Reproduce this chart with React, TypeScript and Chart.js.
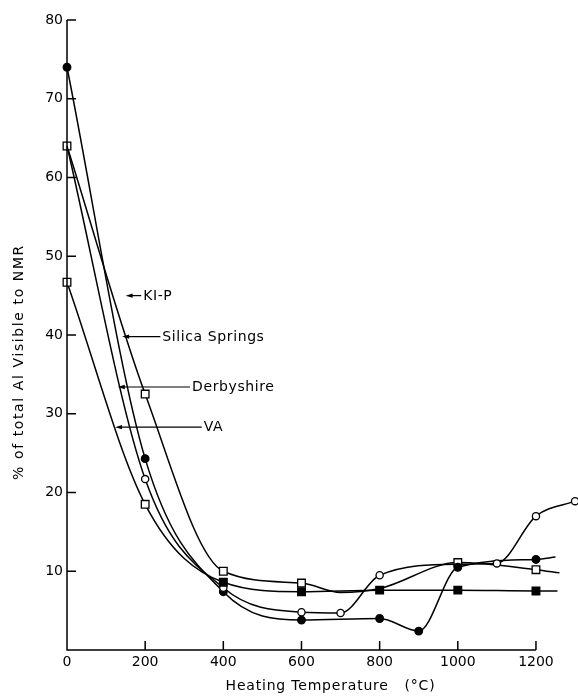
import React, { useEffect, useRef } from "react";
import { Chart, registerables } from "chart.js";

Chart.register(...registerables);

// ---- data ----
const X_TICKS = [0, 200, 400, 600, 800, 1000, 1200];
const Y_TICKS = [10, 20, 30, 40, 50, 60, 70, 80];

const KIP_T = [0, 200, 400, 600, 700, 800, 1000, 1200, 1260];
const KIP_V = [64, 32.5, 10, 8.5, 7.3, 7.8, 11.1, 10.2, 9.8];
const KIP_MARK = [1, 1, 1, 1, 0, 0, 1, 1, 0];

const SIL_T = [0, 200, 400, 600, 800, 900, 1000, 1200, 1250];
const SIL_V = [74, 24.3, 7.4, 3.8, 4.0, 2.4, 10.5, 11.5, 11.8];
const SIL_MARK = [1, 1, 1, 1, 1, 1, 1, 1, 0];

const DER_T = [0, 200, 400, 600, 700, 800, 1000, 1100, 1200, 1300];
const DER_V = [64, 21.7, 7.9, 4.8, 4.7, 9.5, 10.9, 11.0, 17.0, 18.9];
const DER_MARK = [0, 1, 1, 1, 1, 1, 0, 1, 1, 1];

const VA_T = [0, 200, 400, 600, 800, 1000, 1200, 1255];
const VA_V = [46.7, 18.5, 8.6, 7.4, 7.6, 7.6, 7.5, 7.5];
// 0 = no marker, 1 = open square, 2 = filled square
const VA_MARK = [1, 1, 2, 2, 2, 2, 2, 0];

// labels with pointer arrows (data coordinates)
const LABELS = ["KI-P", "Silica Springs", "Derbyshire", "VA"];
const LABEL_TIP_T = [150, 141, 130, 123];
const LABEL_Y = [45, 39.8, 33.4, 28.3];
const LABEL_TEXT_T = [195, 244, 320, 350];

const FONT = "DejaVu Sans";

const pts = (t: number[], v: number[]) => t.map((x, i) => ({ x, y: v[i] }));

const overlay = {
  id: "overlay",
  afterDatasetsDraw(chart: any) {
    const { ctx, scales } = chart;
    const xs = scales.x;
    const ys = scales.y;
    const x0 = xs.getPixelForValue(0);
    const y0 = ys.getPixelForValue(0);
    ctx.save();
    ctx.strokeStyle = "#000";
    ctx.fillStyle = "#000";
    ctx.lineWidth = 1.5;
    ctx.lineCap = "butt";
    // axes
    ctx.beginPath();
    ctx.moveTo(x0, ys.getPixelForValue(80));
    ctx.lineTo(x0, y0);
    ctx.lineTo(xs.getPixelForValue(1200), y0);
    ctx.stroke();
    // ticks (inside)
    ctx.beginPath();
    Y_TICKS.forEach((v) => {
      const py = ys.getPixelForValue(v);
      ctx.moveTo(x0, py);
      ctx.lineTo(x0 + 9, py);
    });
    X_TICKS.forEach((v) => {
      if (v === 0) return;
      const px = xs.getPixelForValue(v);
      ctx.moveTo(px, y0);
      ctx.lineTo(px, y0 - 9);
    });
    ctx.stroke();

    // pointer labels
    ctx.lineWidth = 1.2;
    ctx.font = `14px "${FONT}"`;
    (ctx as any).letterSpacing = "0.6px";
    ctx.textBaseline = "middle";
    ctx.textAlign = "left";
    LABELS.forEach((lab, i) => {
      const tx = xs.getPixelForValue(LABEL_TIP_T[i]);
      const ty = ys.getPixelForValue(LABEL_Y[i]);
      const sx = xs.getPixelForValue(LABEL_TEXT_T[i]);
      ctx.beginPath();
      ctx.moveTo(tx + 4, ty);
      ctx.lineTo(sx - 2, ty);
      ctx.stroke();
      ctx.beginPath();
      ctx.moveTo(tx, ty);
      ctx.lineTo(tx + 7, ty - 2.2);
      ctx.lineTo(tx + 7, ty + 2.2);
      ctx.closePath();
      ctx.fill();
      ctx.fillText(lab, sx, ty + 0.5);
    });

    // axis titles
    ctx.font = `14px "${FONT}"`;
    (ctx as any).letterSpacing = "0.8px";
    ctx.textAlign = "center";
    ctx.fillText("Heating Temperature   (°C)", (x0 + xs.getPixelForValue(1200)) / 2 + 29, 686);
    (ctx as any).letterSpacing = "1.6px";
    ctx.translate(19, 362);
    ctx.rotate(-Math.PI / 2);
    ctx.fillText("% of total Al Visible to NMR", 0, 0);
    ctx.restore();
  },
};

function makeSet(label: string, t: number[], v: number[], mark: number[], style: string, fill: (m: number) => string, r: number) {
  return {
    label,
    data: pts(t, v),
    borderColor: "#000",
    borderWidth: 1.5,
    cubicInterpolationMode: "monotone" as const,
    pointStyle: style,
    pointRadius: mark.map((m) => (m ? r : 0)),
    pointBackgroundColor: mark.map(fill),
    pointBorderColor: "#000",
    pointBorderWidth: 1.3,
    clip: false as const,
  };
}

export default function App() {
  const ref = useRef<HTMLCanvasElement>(null);
  useEffect(() => {
    if (!ref.current) return;
    const chart = new Chart(ref.current, {
      type: "line",
      data: {
        datasets: [
          makeSet("VA", VA_T, VA_V, VA_MARK, "rect", (m) => (m === 2 ? "#000" : "#fff"), 5.4),
          makeSet("Derbyshire", DER_T, DER_V, DER_MARK, "circle", () => "#fff", 3.6),
          makeSet("Silica Springs", SIL_T, SIL_V, SIL_MARK, "circle", () => "#000", 3.8),
          makeSet("KI-P", KIP_T, KIP_V, KIP_MARK, "rect", () => "#fff", 5.4),
        ] as any,
      },
      options: {
        responsive: false,
        maintainAspectRatio: false,
        animation: false,
        layout: { autoPadding: false, padding: { top: 20, right: 1, left: 0, bottom: 0 } },
        plugins: { legend: { display: false }, tooltip: { enabled: false } },
        scales: {
          x: {
            type: "linear",
            min: 0,
            max: 1305,
            afterFit: (s: any) => {
              s.height = 47;
            },
            afterBuildTicks: (s: any) => {
              s.ticks = X_TICKS.map((value) => ({ value }));
            },
            grid: { display: false, drawTicks: false },
            border: { display: false },
            ticks: {
              color: "#000",
              padding: 4,
              maxRotation: 0,
              autoSkip: false,
              font: { family: FONT, size: 14 },
              callback: (v: any) => String(v),
            },
          },
          y: {
            type: "linear",
            min: 0,
            max: 80,
            afterFit: (s: any) => {
              s.width = 67;
            },
            afterBuildTicks: (s: any) => {
              s.ticks = Y_TICKS.map((value) => ({ value }));
            },
            grid: { display: false, drawTicks: false },
            border: { display: false },
            ticks: {
              color: "#000",
              padding: 4,
              autoSkip: false,
              font: { family: FONT, size: 14 },
              callback: (v: any) => String(v),
            },
          },
        },
      },
      plugins: [overlay],
    });
    return () => chart.destroy();
  }, []);
  return (
    <div style={{ position: "absolute", left: 0, top: 0, width: 578, height: 697, background: "#fff" }}>
      <canvas ref={ref} width={578} height={697} />
    </div>
  );
}
